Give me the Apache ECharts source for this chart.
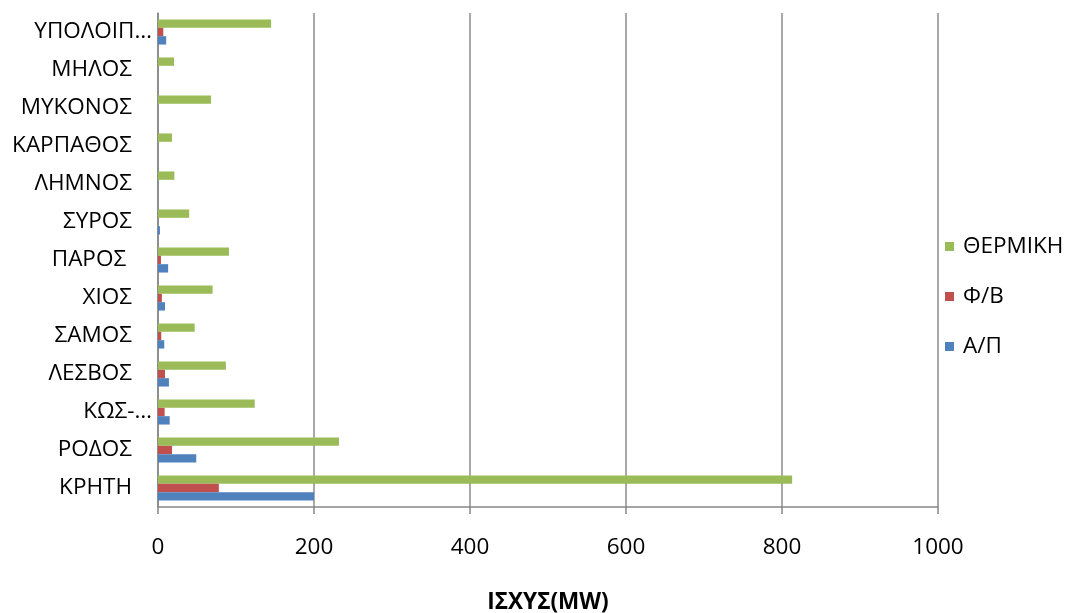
<!DOCTYPE html>
<html>
<head>
<meta charset="utf-8">
<script src="https://cdn.jsdelivr.net/npm/echarts@6/dist/echarts.min.js"></script>
<style>html,body{margin:0;padding:0;background:#fff}#c{width:1068px;height:613px}</style>
</head>
<body>
<div id="c"></div>
<script>
const categories = ['ΚΡΗΤΗ','ΡΟΔΟΣ','ΚΩΣ-…','ΛΕΣΒΟΣ','ΣΑΜΟΣ','ΧΙΟΣ','ΠΑΡΟΣ ','ΣΥΡΟΣ','ΛΗΜΝΟΣ','ΚΑΡΠΑΘΟΣ','ΜΥΚΟΝΟΣ','ΜΗΛΟΣ','ΥΠΟΛΟΙΠ…'];
const seriesNames = ['ΘΕΡΜΙΚΗ','Φ/Β','Α/Π'];
const thermalValues = [813, 232, 124, 87, 47, 70, 91, 40, 21, 18, 68, 20.5, 145];
const solarValues   = [78, 18, 8.5, 9, 4.2, 5, 3.8, 0, 0, 0, 0, 0, 6.8];
const windValues    = [200, 49, 15, 14, 8, 9, 13, 2.5, 0, 0, 0, 0, 10.5];
const xTicks = [0, 200, 400, 600, 800, 1000];
const xAxisTitle = 'ΙΣΧΥΣ(MW)';

const colors = ['#9BBB59', '#C0504D', '#4F81BD'];
const font = 'Open Sans';
const fs = 22.5;
const chart = echarts.init(document.getElementById('c'));
chart.setOption({
  animation: false,
  textStyle: { fontFamily: font },
  grid: { left: 158, right: 130, top: 13, bottom: 106, containLabel: false, outerBoundsMode: 'none' },
  legend: {
    orient: 'vertical', left: 940, top: 230, itemGap: 27,
    itemWidth: 9, itemHeight: 9, icon: 'rect',
    data: seriesNames,
    textStyle: { fontSize: fs, color: '#000', fontFamily: font, padding: [0, 0, 0, 4] }
  },
  xAxis: {
    type: 'value', min: xTicks[0], max: xTicks[xTicks.length - 1], interval: 200,
    name: xAxisTitle, nameLocation: 'middle', nameGap: 84,
    nameTextStyle: { fontSize: fs, fontWeight: 'bold', color: '#000', fontFamily: font },
    axisLine: { show: true, lineStyle: { color: '#868686', width: 1.5 } },
    axisTick: { show: true, length: 7, lineStyle: { color: '#868686', width: 1.5 } },
    axisLabel: { fontSize: fs, color: '#000', margin: 29, fontFamily: font, formatter: v => String(v) },
    splitLine: { show: true, lineStyle: { color: '#8c8c8c', width: 1.5 } }
  },
  yAxis: {
    type: 'category', data: categories,
    axisLine: { show: true, lineStyle: { color: '#868686', width: 1.5 } },
    axisTick: { show: false },
    axisLabel: {
      fontSize: fs, color: '#000', margin: 6, fontFamily: font,
      formatter: v => v.indexOf('…') >= 0 ? v : '{p|' + v + '}',
      rich: { p: { fontSize: fs, color: '#000', fontFamily: font, padding: [0, 20, 0, 0] } }
    }
  },
  series: [
    { name: seriesNames[0], type: 'bar', data: thermalValues, itemStyle: { color: colors[0] }, barGap: '0%', barCategoryGap: '34%' },
    { name: seriesNames[1], type: 'bar', data: solarValues, itemStyle: { color: colors[1] }, barGap: '0%', barCategoryGap: '34%' },
    { name: seriesNames[2], type: 'bar', data: windValues, itemStyle: { color: colors[2] }, barGap: '0%', barCategoryGap: '34%' }
  ]
});
</script>
</body>
</html>
